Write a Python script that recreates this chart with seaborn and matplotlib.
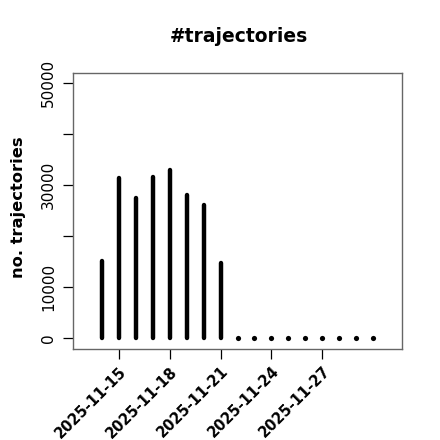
import matplotlib
matplotlib.use("Agg")
import matplotlib.pyplot as plt
import matplotlib.dates as mdates
import numpy as np
import pandas as pd
import seaborn as sns

dates = pd.date_range("2025-11-14", "2025-11-30", freq="D")
counts = [15150, 31400, 27450, 31600, 32950, 28100, 26150, 14700,
          0, 0, 0, 0, 0, 0, 0, 0, 0]
tick_dates = ["2025-11-15", "2025-11-18", "2025-11-21", "2025-11-24", "2025-11-27"]
y_ticks = [0, 10000, 20000, 30000, 40000, 50000]
y_tick_labels = ["0", "10000", "", "30000", "", "50000"]

df = pd.DataFrame({"date": dates, "n": counts})

sns.set_style("white")
plt.rcParams["font.family"] = ["DejaVu Sans"]
plt.rcParams["text.color"] = "black"
plt.rcParams["xtick.color"] = "black"
plt.rcParams["ytick.color"] = "black"
plt.rcParams["axes.labelcolor"] = "black"

fig = plt.figure(figsize=(4.4, 4.4), dpi=100)
ax = fig.add_axes([73/440, 1-348.5/440, (402-73)/440, (348.5-72.8)/440])

nz = df[df["n"] > 0]
z = df[df["n"] == 0]
ax.vlines(nz["date"], 0, nz["n"], color="black", linewidth=3.2, capstyle="round")
sns.scatterplot(data=z, x="date", y="n", ax=ax, color="black", s=14, linewidth=0, marker="o")

x0 = mdates.date2num(pd.Timestamp("2025-11-13"))
x1 = mdates.date2num(pd.Timestamp("2025-12-01"))
ext = (x1 - x0) * 0.04
ax.set_xlim(x0 - ext, x1 + ext)
ax.set_ylim(-2000, 52000)

ax.set_xticks([mdates.date2num(pd.Timestamp(d)) for d in tick_dates])
ax.set_xticklabels(tick_dates, rotation=45, ha="right", va="top",
                   rotation_mode="anchor", fontsize=10.5, fontweight="bold",
                   color="black")
ax.set_yticks(y_ticks)
ax.set_yticklabels(y_tick_labels, rotation=90, va="center", ha="center",
                   fontsize=11, color="black")
ax.tick_params(axis="both", direction="out", length=7, width=0.9, color="black",
               bottom=True, left=True)
ax.tick_params(axis="x", pad=4)
ax.tick_params(axis="y", pad=10.5)

for s in ax.spines.values():
    s.set_color("#666666")
    s.set_linewidth(1.0)

ax.set_xlabel("")
ax.set_ylabel("")
fig.text(18/440, 1-207/440, "no. trajectories", rotation=90, ha="center",
         va="center", fontsize=11.7, fontweight="bold")
fig.text(239/440, 1-37/440, "#trajectories", ha="center", va="center",
         fontsize=13.5, fontweight="bold")

fig.savefig("out.png", dpi=100)
